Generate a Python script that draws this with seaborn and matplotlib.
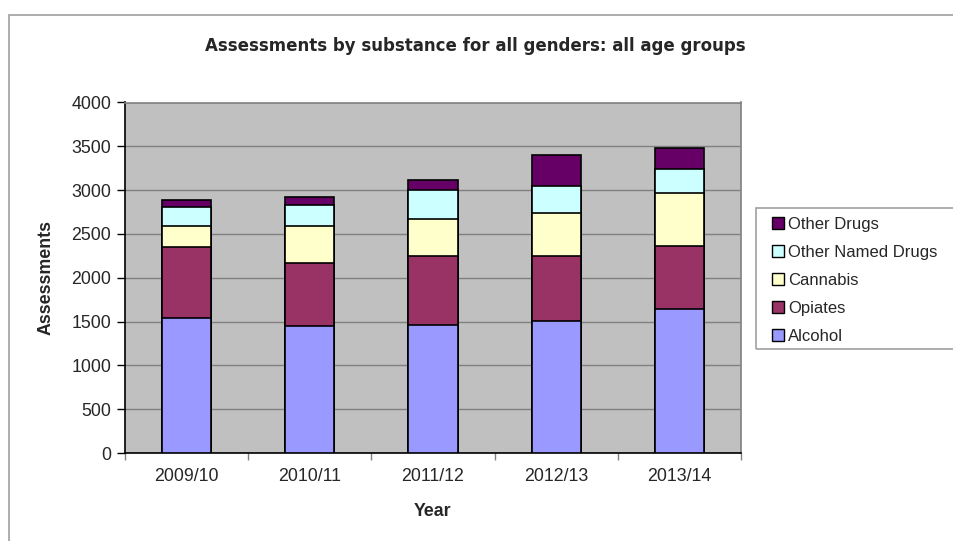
import matplotlib
matplotlib.use("Agg")
import matplotlib.pyplot as plt
import seaborn as sns
import pandas as pd
import numpy as np
from matplotlib.patches import Patch, Rectangle

years = ["2009/10", "2010/11", "2011/12", "2012/13", "2013/14"]
alcohol = [1538, 1451, 1466, 1511, 1648]
opiates = [814, 723, 780, 735, 719]
cannabis = [243, 417, 421, 496, 595]
other_named = [216, 239, 337, 303, 277]
other_drugs = [79, 87, 117, 357, 238]

series_names = ["Alcohol", "Opiates", "Cannabis", "Other Named Drugs", "Other Drugs"]
series_vals = [alcohol, opiates, cannabis, other_named, other_drugs]
colors = ["#9999FF", "#993366", "#FFFFCC", "#CCFFFF", "#660066"]

sns.set_theme(style="white")
plt.rcParams["font.family"] = ["Liberation Sans", "DejaVu Sans"]

fig = plt.figure(figsize=(9.54, 5.41), dpi=100)
ax = fig.add_axes([125 / 954, 1 - 453 / 541, (741 - 125) / 954, (453 - 102.5) / 541])
ax.set_facecolor("#C0C0C0")

cum = np.cumsum(np.array(series_vals), axis=0)
# draw from the top layer down so lower layers overlay
for i in range(len(series_names) - 1, -1, -1):
    df = pd.DataFrame({"Year": years, "Value": cum[i]})
    sns.barplot(data=df, x="Year", y="Value", color=colors[i], width=0.4,
                edgecolor="black", linewidth=1.2, saturation=1, ax=ax, zorder=3)

ax.set_ylim(0, 4000)
ax.set_xlim(-0.5, 4.5)
ax.set_yticks(range(0, 4001, 500))
ax.yaxis.grid(True, color="#808080", linewidth=1.0, zorder=0)
ax.set_axisbelow(True)
ax.tick_params(axis="y", which="major", direction="out", length=6, width=1,
               color="black", labelsize=12.8, pad=4, left=True)
ax.tick_params(axis="x", which="major", length=0, labelsize=12.8, pad=11)
ax.set_xticks(np.arange(-0.5, 5, 1), minor=True)
ax.tick_params(axis="x", which="minor", direction="out", length=5, width=1,
               color="#808080", bottom=True)
for s in ["left", "bottom"]:
    ax.spines[s].set_color("black")
    ax.spines[s].set_linewidth(1.2)
for s in ["top", "right"]:
    ax.spines[s].set_color("#808080")
    ax.spines[s].set_linewidth(1.2)

ax.set_xlabel("Year", fontsize=12.8, fontweight="bold", labelpad=13)
ax.set_ylabel("Assessments", fontsize=12.8, fontweight="bold", labelpad=12)

fig.text(475 / 954, 1 - 46 / 541, "Assessments by substance for all genders: all age groups",
         ha="center", va="center", fontsize=11.95, fontweight="bold",
         family=["DejaVu Sans"])

# outer chart frame
fig.patches.append(Rectangle((9 / 954, -0.1), 1.2, 1 - 15 / 541 + 0.1,
                             transform=fig.transFigure, fill=False,
                             edgecolor="#A0A0A0", linewidth=1.2))
# legend frame
fig.patches.append(Rectangle((755.7 / 954, 1 - 349.3 / 541), 0.5, (349.3 - 208.3) / 541,
                             transform=fig.transFigure, fill=False,
                             edgecolor="#A0A0A0", linewidth=1.2))

handles = [Patch(facecolor=colors[i], edgecolor="black", linewidth=1.0, label=series_names[i])
           for i in range(len(series_names) - 1, -1, -1)]
fig.legend(handles=handles, loc="upper left", bbox_to_anchor=(760 / 954, 1 - 205 / 541),
           frameon=False, fontsize=12, handlelength=0.75, handleheight=0.75,
           handletextpad=0.25, labelspacing=0.78, borderpad=0.2)

fig.savefig("out.png", dpi=100)
